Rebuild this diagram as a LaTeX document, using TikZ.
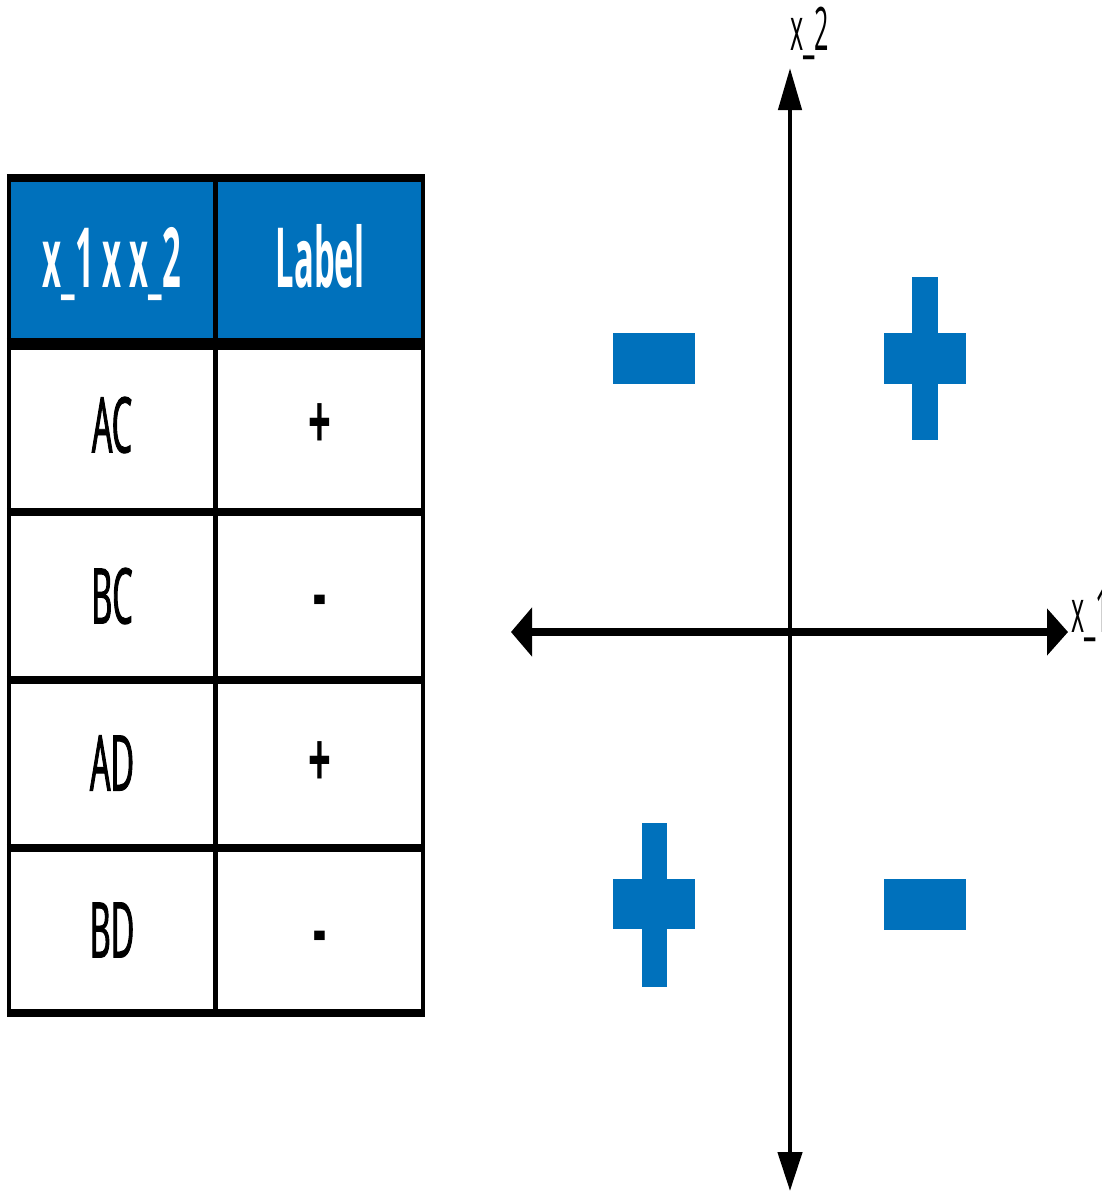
\documentclass[tikz,border=0pt]{standalone}
\usepackage{fontspec}
\setmainfont[FakeStretch=0.42]{Open Sans}
\newfontfamily\medfont[FakeStretch=0.42,FakeBold=1.2]{Open Sans}
\newfontfamily\signfont[FakeStretch=0.52]{Open Sans}
\newfontfamily\headfont[FakeStretch=0.395]{Open Sans}
\usetikzlibrary{arrows.meta}
\definecolor{oblue}{HTML}{0071BC}
\begin{document}
\begin{tikzpicture}[x=1pt,y=-1pt,
  hline/.style={line width=8pt},
  vline/.style={line width=4.5pt},
  cell/.style={font=\fontsize{77}{80}\medfont, inner sep=0pt},
  signcell/.style={font=\fontsize{77}{80}\signfont\bfseries, inner sep=0pt},
  head/.style={font=\fontsize{83}{86}\headfont\bfseries, text=white, inner sep=0pt, anchor=base},
  sign/.style={fill=oblue, draw=none},
  axlabel/.style={font=\fontsize{60}{62}\selectfont, inner sep=0pt, anchor=base west},
]
\useasboundingbox (0,0) rectangle (1101,1191);
% header fill
\fill[oblue] (9,178) rectangle (423,344);
% table lines
\draw[hline] (6.75,178) -- (425.25,178);
\draw[line width=12pt] (6.75,344) -- (425.25,344);
\foreach \yy in {512,680,848,1013} \draw[hline] (6.75,\yy) -- (425.25,\yy);
\foreach \xx in {9,215.5,423} \draw[vline] (\xx,174) -- (\xx,1017);
% header texts
\node[head] (h1) at (112,287) {x\_1 x x\_2};
\node[head] (h2) at (320,287) {Label};
% cells
\node[cell] (c11) at (112,425) {AC};
\node[signcell] (c12) at (320,427) {+};
\node[cell] (c21) at (112,596) {BC};
\node[signcell] (c22) at (320,608) {-};
\node[cell] (c31) at (112,763) {AD};
\node[signcell] (c32) at (320,765) {+};
\node[cell] (c41) at (112,930) {BD};
\node[signcell] (c42) at (320,944) {-};
% axes
\coordinate (ytop) at (790,68);
\coordinate (ybot) at (790,1191);
\coordinate (xl) at (511,632);
\coordinate (xr) at (1068,632);
\draw[line width=4.5pt, {Triangle[length=42pt,width=23pt]}-{Triangle[length=39pt,width=24pt]}] (ytop) -- (ybot);
\draw[line width=8pt, {Triangle[length=21pt,width=48pt]}-{Triangle[length=21pt,width=46pt]}] (xl) -- (xr);
\node[axlabel] (lx2) at (790,50) {x\_2};
\node[axlabel] (lx1) at (1071,632) {x\_1};
% signs
\fill[sign] (613,333) rectangle (695,384);
\fill[sign] (912,277) rectangle (938,440);
\fill[sign] (884,333) rectangle (966,384);
\fill[sign] (642,823) rectangle (667,987);
\fill[sign] (613,879) rectangle (695,929);
\fill[sign] (884,879) rectangle (966,930);
\end{tikzpicture}
\end{document}
